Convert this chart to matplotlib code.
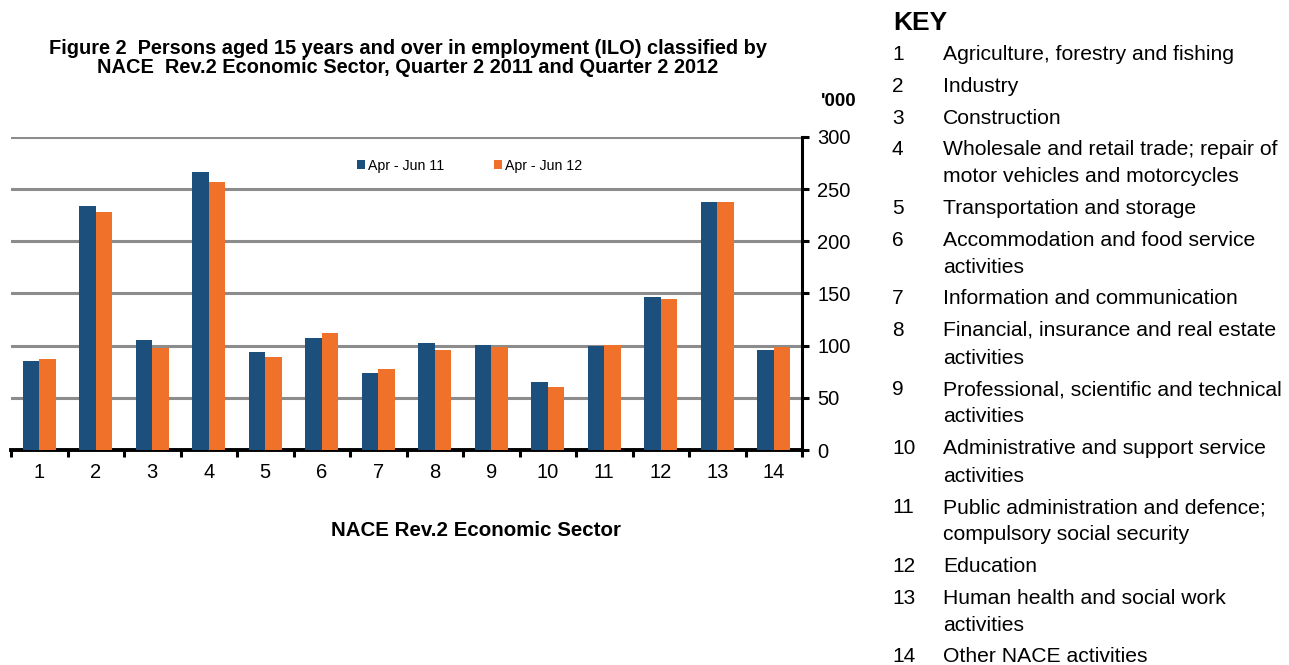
import matplotlib
matplotlib.use('Agg')
import matplotlib.pyplot as plt
import numpy as np

plt.rcParams['font.family'] = ['Liberation Sans', 'DejaVu Sans']

# Data ('000 persons)
sectors = [str(i) for i in range(1, 15)]
q2_2011 = [85, 234, 105, 266, 94, 107, 74, 103, 101, 65, 100, 147, 238, 96]
q2_2012 = [87, 228, 98, 257, 89, 112, 78, 96, 99, 60, 101, 145, 238, 99]
series_labels = ['Apr - Jun 11', 'Apr - Jun 12']
y_ticks = [0, 50, 100, 150, 200, 250, 300]

key_items = [
    'Agriculture, forestry and fishing',
    'Industry',
    'Construction',
    'Wholesale and retail trade; repair of\nmotor vehicles and motorcycles',
    'Transportation and storage',
    'Accommodation and food service\nactivities',
    'Information and communication',
    'Financial, insurance and real estate\nactivities',
    'Professional, scientific and technical\nactivities',
    'Administrative and support service\nactivities',
    'Public administration and defence;\ncompulsory social security',
    'Education',
    'Human health and social work\nactivities',
    'Other NACE activities',
]

BLUE = '#1d4f7c'
ORANGE = '#ef712a'
W, H = 1289, 665

fig = plt.figure(figsize=(W / 100, H / 100), dpi=100)
ax = fig.add_axes([11 / W, 1 - 450 / H, (802 - 11) / W, (450 - 137) / H])

x = np.arange(len(sectors))
bw = 0.29
ax.bar(x - bw / 2, q2_2011, bw, color=BLUE, label=series_labels[0], zorder=3)
ax.bar(x + bw / 2, q2_2012, bw, color=ORANGE, label=series_labels[1], zorder=3)

ax.set_xlim(-0.5, len(sectors) - 0.5)
ax.set_ylim(0, 300)

# gridlines
for v in y_ticks[1:]:
    ax.axhline(v, color='#8c8c8c', lw=2.2, zorder=1)

# spines
for s in ['left', 'top']:
    ax.spines[s].set_visible(False)
ax.spines['right'].set_linewidth(2.2)
ax.spines['bottom'].set_linewidth(2.8)
ax.spines['right'].set_zorder(4)

ax.yaxis.tick_right()
ax.set_yticks(y_ticks)
ax.tick_params(axis='y', direction='out', length=5, width=2.2, labelsize=14.5, pad=6)
ax.set_xticks(x)
ax.set_xticklabels(sectors)
ax.tick_params(axis='x', length=0, labelsize=14.5, pad=9)
ax.set_xticks(np.arange(-0.5, len(sectors)), minor=True)
ax.tick_params(axis='x', which='minor', direction='out', length=5, width=2.2)

ax.legend(loc='upper left', bbox_to_anchor=(340 / 791, 1 - 16 / 313), ncol=2, frameon=False,
          fontsize=10.2, handlelength=0.6, handleheight=0.6, handletextpad=0.2,
          columnspacing=3.5, borderaxespad=0)

fig.text(408 / W, 1 - 58 / H,
         'Figure 2  Persons aged 15 years and over in employment (ILO) classified by\n'
         'NACE  Rev.2 Economic Sector, Quarter 2 2011 and Quarter 2 2012',
         ha='center', va='center', fontsize=14.4, fontweight='bold', linespacing=0.98)
fig.text(839 / W, 1 - 102 / H, "'000", ha='center', va='center', fontsize=13.5, fontweight='bold')
fig.text(476 / W, 1 - 531 / H, 'NACE Rev.2 Economic Sector', ha='center', va='center',
         fontsize=14.8, fontweight='bold')

# Key on the right
fig.text(893 / W, 1 - 23 / H, 'KEY', ha='left', va='center', fontsize=19, fontweight='bold')
y = 55
for i, item in enumerate(key_items):
    fig.text(892 / W, 1 - y / H, str(i + 1), ha='left', va='center', fontsize=15)
    lines = item.split('\n')
    for j, ln in enumerate(lines):
        fig.text(943 / W, 1 - (y + j * 27.5) / H, ln, ha='left', va='center', fontsize=15.2)
    y += (len(lines) - 1) * 27.5 + 31.5

fig.savefig('out.png', dpi=100)
